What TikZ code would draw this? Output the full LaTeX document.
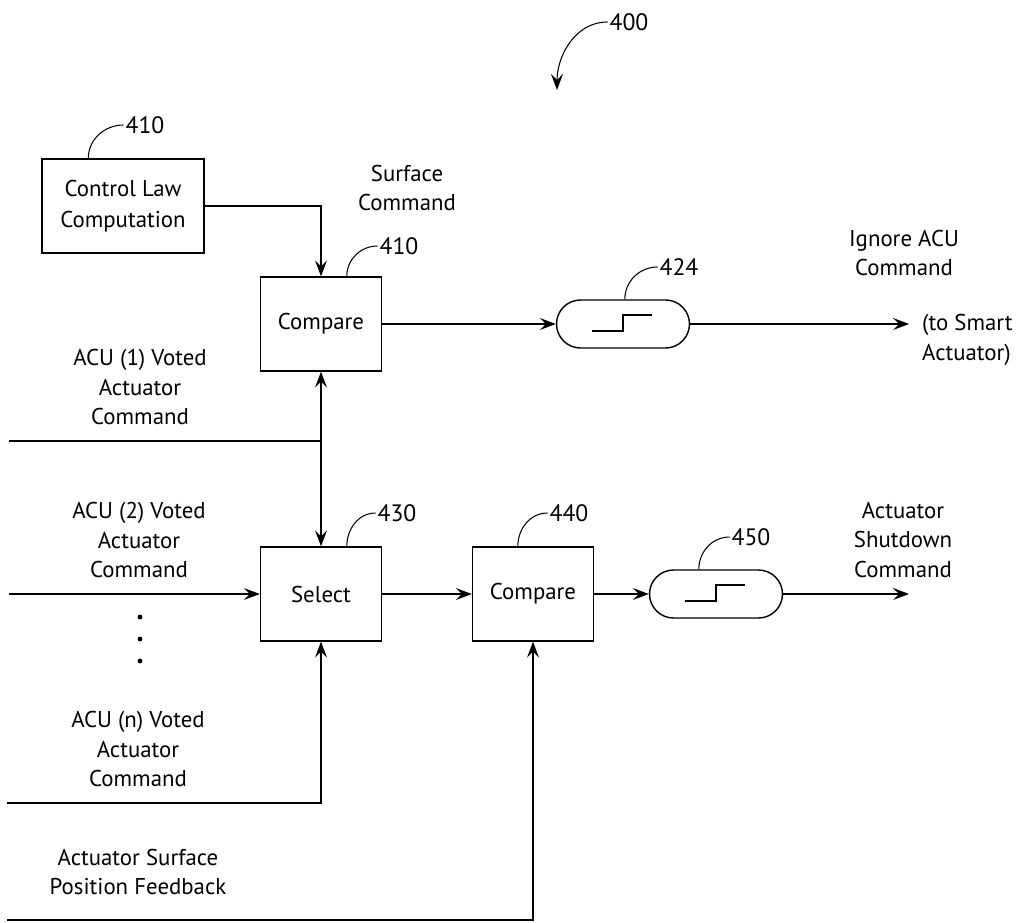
\documentclass[tikz,border=0pt]{standalone}
\usepackage{fontspec}
\setmainfont{PT Sans}
\usetikzlibrary{arrows.meta}

\begin{document}
\begin{tikzpicture}[x=0.02cm, y=-0.02cm,
        box/.style={rectangle, draw, line width=0.8pt, minimum width=2.42cm, minimum height=1.88cm, align=center, font=\fontsize{13}{17.5}\selectfont},
        pill/.style={rectangle, draw, line width=0.8pt, rounded corners=0.48cm, minimum width=2.66cm, minimum height=0.96cm},
        txt/.style={align=center, font=\fontsize{13}{17}\selectfont},
        num/.style={inner sep=1pt, font=\fontsize{13.5}{15}\selectfont},
        lead/.style={line width=0.6pt},
        arrow/.style={-{Stealth[length=3.2mm, width=2.4mm, inset=1.2mm]}, line width=0.6pt}
    ]
        \useasboundingbox (0,0) rectangle (1026,922);

        % Boxes
        \node[box, minimum width=3.24cm] (law) at (123,206) {Control Law\\Computation};
        \node[box] (cmpA) at (321,324) {Compare};
        \node[pill] (stepA) at (623,324) {};
        \node[box] (select) at (321,594) {Select};
        \node[box] (cmpB) at (533,594) {Compare};
        \node[pill] (stepB) at (716,594) {};

        % Texts
        \node[txt] (surf) at (407,188) {Surface\\Command};
        \node[txt] (ignore) at (904,253) {Ignore ACU\\Command};
        \node[txt, align=left, anchor=west] (smart) at (916,340) {(to Smart\\Actuator)};
        \node[txt] (acu1) at (140,387) {ACU (1) Voted\\Actuator\\Command};
        \node[txt] (acu2) at (139,540) {ACU (2) Voted\\Actuator\\Command};
        \node[txt] (acun) at (138,749) {ACU (n) Voted\\Actuator\\Command};
        \node[txt] (feed) at (138,872) {Actuator Surface\\Position Feedback};
        \node[txt] (shut) at (903,540) {Actuator\\Shutdown\\Command};

        % Numbers
        \node[num] (n400) at (629,22) {400};
        \node[num] (n410a) at (145,125) {410};
        \node[num] (n410b) at (399,246) {410};
        \node[num] (n424) at (679,267) {424};
        \node[num] (n430) at (397,513) {430};
        \node[num] (n440) at (569,513) {440};
        \node[num] (n450) at (751,537) {450};

        % Free ends
        \coordinate (c400) at (557,90);
        \coordinate (in1) at (9,441);
        \coordinate (tee) at (321,441);
        \coordinate (in2) at (9,594);
        \coordinate (inN) at (7,803);
        \coordinate (inF) at (7,920);
        \coordinate (outA) at (909,324);
        \coordinate (outB) at (909,594);

        % Arrows
        \draw[arrow] (law.east) -| (cmpA.north);
        \draw[lead] (in1) -- (tee);
        \draw[arrow, line width=0.9pt] (tee) -- (cmpA.south);
        \draw[arrow, line width=0.9pt] (tee) -- (select.north);
        \draw[arrow] (cmpA.east) -- (stepA.west);
        \draw[arrow] (stepA.east) -- (outA);
        \draw[arrow] (in2) -- (select.west);
        \draw[arrow] (select.east) -- (cmpB.west);
        \draw[arrow] (cmpB.east) -- (stepB.west);
        \draw[arrow] (stepB.east) -- (outB);
        \draw[arrow] (inN) -| (select.south);
        \draw[arrow] (inF) -| (cmpB.south);

        % Leaders
        \draw[arrow] (n400.west) to[out=180, in=90] (c400);
        \draw[lead] (law.north west) ++(47,0) to[out=90, in=180] (n410a.west);
        \draw[lead] (cmpA.north west) ++(87,0) to[out=90, in=180] (n410b.west);
        \draw[lead] (stepA.north west) ++(69,0) to[out=90, in=180] (n424.west);
        \draw[lead] (select.north west) ++(87,0) to[out=90, in=180] (n430.west);
        \draw[lead] (cmpB.north west) ++(46,0) to[out=90, in=180] (n440.west);
        \draw[lead] (stepB.north west) ++(50,0) to[out=90, in=180] (n450.west);

        % Step symbols and dots
        \foreach \p in {stepA, stepB}
            \draw[lead] (\p.center) ++(-31,7) -- ++(31,0) -- ++(0,-16) -- ++(29,0);
        \foreach \yy in {617,639,661}
            \fill (140,\yy) circle[radius=1.4pt];
    \end{tikzpicture}
\end{document}
